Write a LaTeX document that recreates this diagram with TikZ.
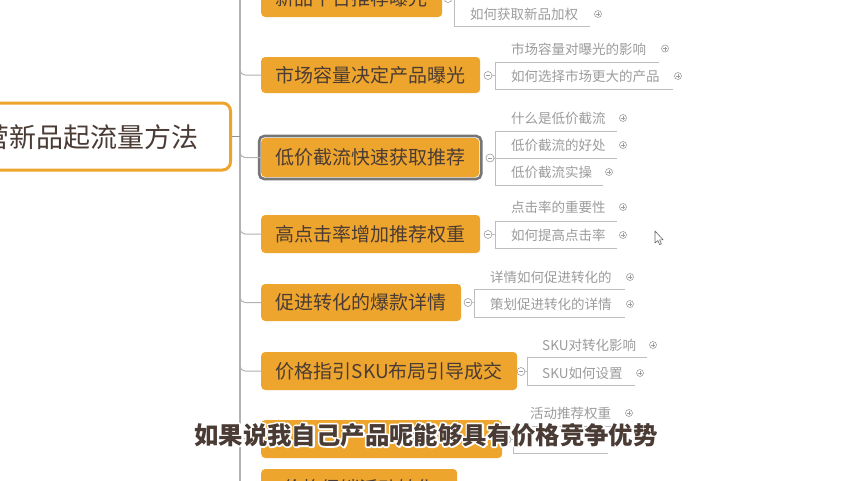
\documentclass[tikz,border=0pt]{standalone}
\usepackage{fontspec}
\setmainfont{Noto Sans CJK SC}
\definecolor{orf}{HTML}{EEA52D}
\definecolor{txt}{HTML}{4A3B34}
\definecolor{subc}{HTML}{9C9C9C}
\definecolor{linec}{HTML}{B2B2B2}
\definecolor{brkc}{HTML}{BDBDBD}
\definecolor{selc}{HTML}{767676}
\tikzset{
  branch/.style={fill=orf, rounded corners=4pt, minimum height=37pt, inner xsep=14.5pt, inner ysep=0pt,
    font=\fontsize{19}{19}\selectfont, text=txt, anchor=west},
  subtxt/.style={anchor=west, inner sep=0pt, font=\fontsize{13.5}{14}\selectfont, text=subc},
  conn/.style={draw=linec, line width=1pt, rounded corners=5pt},
  brk/.style={draw=brkc, line width=0.9pt},
  plusic/.style={circle, draw=subc, line width=0.6pt, minimum size=7pt, inner sep=0pt,
    path picture={\draw[subc,line width=0.6pt] ([xshift=-2pt]path picture bounding box.center) -- ([xshift=2pt]path picture bounding box.center) ([yshift=-2pt]path picture bounding box.center) -- ([yshift=2pt]path picture bounding box.center);}},
  minusic/.style={circle, draw=subc, line width=0.6pt, minimum size=8pt, inner sep=0pt, fill=white,
    path picture={\draw[subc,line width=0.6pt] ([xshift=-2.2pt]path picture bounding box.center) -- ([xshift=2.2pt]path picture bounding box.center);}},
  subt/.style={font=\fontsize{24.4}{25}\selectfont\bfseries, text=txt, inner sep=0pt}
}
\newcommand{\halotext}[1]{\special{pdf:code q 1 Tr 3.4 w 1 j 1 1 1 RG}#1\special{pdf:code Q}}
\begin{document}
\begin{tikzpicture}[x=1pt,y=-1pt]
\useasboundingbox (0,0) rectangle (852,480);
\clip (0,0) rectangle (852,480);
\fill[white] (0,0) rectangle (852,480);

% spine
\coordinate (spT) at (240,-5);
\coordinate (spB) at (240,485);
\draw[draw=linec, line width=1.6pt] (spT) -- (spB);

% root
\node[draw=orf, line width=3pt, fill=white, rounded corners=8pt, minimum width=262pt, minimum height=67pt, anchor=east, inner sep=0pt] (root) at (232,136.5) {};
\node[anchor=east, inner sep=0pt, font=\fontsize{27}{27}\selectfont, text=txt] (roottxt) at (199,137) {营新品起流量方法};
\coordinate (sR) at (240,136.5);
\draw[draw=selc!80, line width=1pt] (root.east) -- (sR);

% branches
\node[branch] (b1) at (261,-1.5) {新品平台推荐曝光};
\node[branch, minimum height=36pt] (b2) at (261,75) {市场容量决定产品曝光};
\node[branch, minimum height=39pt, inner xsep=14pt] (b3) at (261,157.5) {低价截流快速获取推荐};
\draw[selc, line width=2.6pt, rounded corners=5pt] ([shift={(-1.8,-1.8)}]b3.north west) rectangle ([shift={(1.8,1.8)}]b3.south east);
\node[branch, minimum height=38pt] (b4) at (261,234) {高点击率增加推荐权重};
\node[branch] (b5) at (261,302.5) {促进转化的爆款详情};
\node[branch, minimum height=38pt] (b6) at (261,371) {价格指引SKU布局引导成交};
\node[branch, minimum height=38pt, minimum width=241pt] (b7) at (261,439) {};
\node[branch, minimum height=38pt, minimum width=196pt] (b8) at (261,488) {价格促销活动转化};

% elbows
\foreach \n/\yy in {1/-1.5, 2/75, 3/157.5, 4/234, 5/302.5, 6/371, 7/439, 8/488}{
  \coordinate (s\n) at (240,\yy-12);
  \draw[conn] (s\n) |- (b\n.west);
}

% collapse icons
\node[minusic] (c1) at (448,-1.5) {};
\node[minusic] (c2) at (488,75.5) {};
\node[minusic] (c3) at (490,158) {};
\node[minusic] (c4) at (488,234.5) {};
\node[minusic] (c5) at (468,302.5) {};
\node[minusic] (c6) at (521,371.5) {};
\node[minusic] (c7) at (507,439.5) {};

% group 1
\draw[brk] (454,-4) -- (454,26) -- (590,26);
\node[subtxt] (t12) at (470,14) {如何获取新品加权};
\node[plusic] (p12) at (598,14) {};

% group 2
\draw[brk] (659,62) -- (495,62) -- (495,89) -- (673,89);
\draw[brk] (c2.east) -- (495,75.5);
\node[subtxt] (t21) at (511,49) {市场容量对曝光的影响};
\node[plusic] (p21) at (665,48.5) {};
\node[subtxt] (t22) at (511,76) {如何选择市场更大的产品};
\node[plusic] (p22) at (678,76) {};

% group 3
\draw[brk] (617,131) -- (495,131) -- (495,185) -- (603,185);
\draw[brk] (495,158) -- (617,158);
\draw[brk] (c3.east) -- (495,158);
\node[subtxt] (t31) at (511,118) {什么是低价截流};
\node[plusic] (p31) at (623,118) {};
\node[subtxt] (t32) at (511,145) {低价截流的好处};
\node[plusic] (p32) at (623,145) {};
\node[subtxt] (t33) at (511,172) {低价截流实操};
\node[plusic] (p33) at (609,172) {};

% group 4
\draw[brk] (617,221) -- (495,221) -- (495,248) -- (617,248);
\draw[brk] (c4.east) -- (495,234.5);
\node[subtxt] (t41) at (511,207) {点击率的重要性};
\node[plusic] (p41) at (623,207) {};
\node[subtxt] (t42) at (511,235) {如何提高点击率};
\node[plusic] (p42) at (623,235) {};

% group 5
\draw[brk] (625,289) -- (474,289) -- (474,317) -- (625,317);
\draw[brk] (c5.east) -- (474,302.5);
\node[subtxt] (t51) at (490,277) {详情如何促进转化的};
\node[plusic] (p51) at (630,277) {};
\node[subtxt] (t52) at (490,304) {策划促进转化的详情};
\node[plusic] (p52) at (630,304) {};

% group 6
\draw[brk] (647,357) -- (527,357) -- (527,385) -- (635,385);
\draw[brk] (c6.east) -- (527,371.5);
\node[subtxt] (t61) at (542,345) {SKU对转化影响};
\node[plusic] (p61) at (653,345) {};
\node[subtxt] (t62) at (542,373) {SKU如何设置};
\node[plusic] (p62) at (640,373) {};

% group 7
\draw[brk] (625,426) -- (513,426) -- (513,453) -- (608,453);
\draw[brk] (c7.east) -- (513,439.5);
\node[subtxt] (t71) at (530,413) {活动推荐权重};
\node[plusic] (p71) at (629,413) {};

% mouse cursor
\draw[fill=white, draw=gray!80!black, line width=0.6pt, line join=round]
  (655,231) -- (655,243) -- (657.8,240.6) -- (659.6,244.6) -- (661.4,243.8) -- (659.6,239.9) -- (663.2,239.9) -- cycle;

% subtitle with white outline
\node[subt, text=white] (halo) at (426,435) {\halotext{如果说我自己产品呢能够具有价格竞争优势}};
\node[subt] (subtitle) at (426,435) {如果说我自己产品呢能够具有价格竞争优势};
\end{tikzpicture}
\end{document}
